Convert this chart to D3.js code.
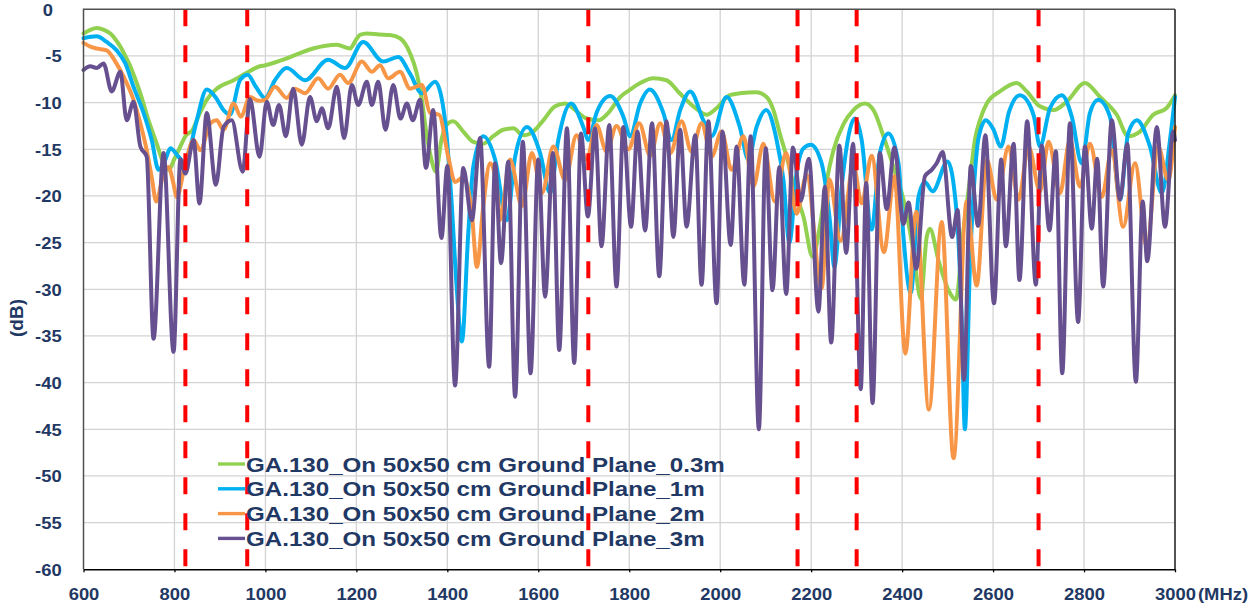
<!DOCTYPE html>
<html>
<head>
<meta charset="utf-8">
<script src="https://cdn.jsdelivr.net/npm/d3@7"></script>
<style>
  body { margin: 0; background: #fff; }
  svg { display: block; font-family: "Liberation Sans", Arial, sans-serif; font-weight: bold; }
</style>
</head>
<body>
<svg id="chart" width="1257" height="604"></svg>
<script>
// tick labels
const xTickValues = [600, 800, 1000, 1200, 1400, 1600, 1800, 2000, 2200, 2400, 2600, 2800, 3000];
const yTickValues = [0, -5, -10, -15, -20, -25, -30, -35, -40, -45, -50, -55, -60];

// band edges marked with red dashed lines (MHz)
const bandEdges = [824, 960, 1710, 2170, 2300, 2700];

const seriesNames = [
    "GA.130_On 50x50 cm Ground Plane_0.3m",
    "GA.130_On 50x50 cm Ground Plane_1m",
    "GA.130_On 50x50 cm Ground Plane_2m",
    "GA.130_On 50x50 cm Ground Plane_3m"
];

// [MHz, dB]
const gp03m = [
    [600,-2.6],[615,-2.2],[629,-2.0],[645,-2.2],[659,-2.6],[670,-3.2],[681,-4.0],[692,-5.0],[703,-6.1],
    [714,-7.5],[725,-9.0],[743,-11.9],[761,-14.4],[776,-16.5],[788,-17.2],[800,-16.0],[813,-14.7],[824,-13.6],
    [840,-12.9],[856,-11.1],[871,-9.7],[893,-8.5],[930,-7.6],[959,-6.8],[988,-6.1],[1000,-6.0],[1039,-5.4],
    [1076,-4.7],[1105,-4.2],[1157,-3.8],[1186,-4.2],[1200,-3.2],[1208,-2.75],[1223,-2.6],[1250,-2.7],
    [1274,-2.75],[1296,-3.1],[1318,-4.7],[1333,-6.9],[1344,-9.7],[1354,-13.3],[1365,-16.1],[1375,-17.4],
    [1387,-14.0],[1402,-12.2],[1413,-12.0],[1435,-13.1],[1457,-14.2],[1479,-14.4],[1501,-13.6],[1523,-12.9],
    [1545,-12.75],[1567,-13.5],[1589,-13.1],[1611,-11.9],[1637,-10.4],[1659,-10.1],[1681,-10.8],[1706,-11.7],
    [1732,-11.9],[1754,-11.1],[1780,-9.4],[1802,-8.6],[1824,-7.9],[1853,-7.4],[1882,-7.6],[1911,-9.0],
    [1941,-10.4],[1970,-11.3],[1992,-10.6],[2021,-9.2],[2043,-9.0],[2080,-8.9],[2102,-9.4],[2117,-10.8],
    [2131,-13.3],[2146,-15.8],[2168,-20.0],[2183,-22.2],[2203,-26.5],[2219,-23.3],[2232,-19.0],[2249,-15.1],
    [2271,-12.3],[2293,-10.8],[2318,-10.1],[2337,-10.8],[2359,-13.6],[2381,-16.9],[2406,-21.0],[2425,-26.0],
    [2441,-31.0],[2454,-24.4],[2461,-23.5],[2480,-26.9],[2502,-30.1],[2518,-31.1],[2535,-23.6],[2549,-18.3],
    [2560,-14.0],[2571,-11.9],[2586,-10.1],[2615,-8.8],[2652,-7.9],[2674,-8.8],[2703,-10.4],[2733,-10.8],
    [2762,-9.9],[2802,-7.9],[2835,-9.4],[2872,-11.3],[2897,-13.6],[2923,-13.1],[2952,-11.3],[2981,-10.6],
    [3000,-9.2]
];

const gp1m = [
    [600,-3.1],[629,-2.9],[651,-3.5],[673,-4.4],[692,-5.8],[710,-8.3],[732,-11.1],[750,-14.0],[765,-17.2],
    [780,-16.1],[791,-14.9],[809,-15.8],[820,-16.3],[835,-14.7],[849,-11.9],[871,-8.6],[890,-9.4],[908,-10.8],
    [922,-11.3],[944,-7.6],[961,-7.0],[979,-8.3],[999,-9.5],[1021,-7.6],[1047,-6.3],[1087,-7.6],[1138,-5.4],
    [1175,-6.3],[1215,-3.5],[1259,-5.6],[1292,-5.1],[1318,-6.9],[1344,-9.0],[1373,-7.75],[1387,-9.4],
    [1398,-13.3],[1409,-20.4],[1420,-29.4],[1432,-35.6],[1446,-24.0],[1457,-16.9],[1479,-13.6],[1505,-16.1],
    [1531,-22.6],[1549,-15.8],[1575,-12.6],[1604,-15.4],[1626,-19.7],[1644,-14.0],[1672,-10.1],[1699,-12.6],
    [1710,-14.0],[1728,-11.1],[1758,-9.3],[1787,-11.5],[1802,-13.6],[1824,-10.1],[1845,-8.6],[1875,-11.1],
    [1893,-14.0],[1912,-10.8],[1934,-8.8],[1963,-11.9],[1981,-13.6],[2014,-9.4],[2043,-12.6],[2062,-16.1],
    [2080,-12.6],[2101,-10.8],[2124,-14.0],[2139,-18.3],[2152,-25.0],[2168,-17.5],[2183,-14.9],[2199,-14.5],
    [2223,-16.5],[2241,-22.6],[2251,-27.6],[2267,-19.0],[2285,-12.9],[2296,-11.7],[2311,-14.0],[2333,-23.6],
    [2351,-15.4],[2370,-13.3],[2392,-16.5],[2403,-24.4],[2419,-30.4],[2436,-20.1],[2450,-18.5],[2467,-19.5],
    [2500,-16.3],[2520,-21.9],[2531,-33.3],[2538,-45.0],[2549,-27.6],[2558,-19.0],[2568,-13.8],[2584,-11.9],
    [2600,-12.8],[2617,-14.7],[2635,-11.0],[2659,-9.2],[2680,-10.2],[2690,-11.5],[2703,-14.7],[2725,-10.6],
    [2751,-9.2],[2773,-11.5],[2795,-16.5],[2813,-11.1],[2831,-9.7],[2857,-11.5],[2879,-20.4],[2897,-13.3],
    [2916,-11.9],[2945,-14.7],[2971,-19.7],[2989,-14.0],[3000,-9.4]
];

const gp2m = [
    [600,-3.6],[615,-4.0],[629,-4.2],[651,-4.4],[670,-5.6],[688,-7.2],[710,-9.7],[725,-12.2],[739,-15.1],
    [750,-18.0],[760,-20.6],[776,-17.6],[787,-16.9],[797,-18.5],[805,-20.1],[824,-16.5],[842,-14.0],[857,-15.1],
    [879,-12.2],[893,-11.9],[908,-12.9],[930,-10.1],[946,-11.5],[966,-9.4],[985,-9.8],[999,-9.7],[1021,-8.3],
    [1047,-9.5],[1065,-8.5],[1087,-9.0],[1116,-7.4],[1138,-8.5],[1164,-7.0],[1182,-7.9],[1212,-5.6],
    [1234,-6.7],[1252,-6.0],[1270,-7.4],[1296,-6.7],[1318,-8.5],[1344,-8.1],[1362,-11.1],[1382,-11.3],
    [1402,-15.8],[1417,-18.5],[1435,-18.0],[1454,-21.9],[1465,-27.6],[1479,-21.1],[1494,-16.5],[1509,-19.0],
    [1516,-22.6],[1538,-16.1],[1564,-21.1],[1586,-15.4],[1608,-19.7],[1633,-14.7],[1659,-18.3],[1684,-13.5],
    [1706,-16.1],[1728,-12.4],[1750,-15.25],[1772,-12.5],[1798,-15.0],[1822,-12.2],[1846,-15.7],[1868,-12.2],
    [1890,-15.4],[1915,-12.0],[1937,-15.25],[1959,-12.2],[1981,-15.8],[2003,-13.1],[2025,-17.2],[2051,-13.6],
    [2073,-19.0],[2095,-14.4],[2120,-20.6],[2145,-15.4],[2168,-21.9],[2190,-17.75],[2223,-29.9],[2240,-18.2],
    [2265,-24.8],[2293,-16.7],[2311,-20.8],[2333,-15.7],[2360,-26.0],[2383,-17.9],[2407,-36.9],[2431,-21.7],
    [2459,-42.9],[2487,-22.8],[2513,-48.1],[2542,-20.6],[2564,-29.6],[2586,-16.1],[2608,-20.4],[2634,-14.7],
    [2656,-20.4],[2678,-14.7],[2703,-19.5],[2722,-14.2],[2747,-19.7],[2769,-14.0],[2791,-19.0],[2813,-14.4],
    [2839,-20.1],[2861,-15.1],[2886,-23.3],[2912,-16.5],[2938,-25.4],[2963,-14.7],[2985,-18.3],[3000,-12.6]
];

const gp3m = [
    [600,-6.5],[615,-6.1],[629,-6.3],[644,-5.8],[662,-8.8],[681,-6.7],[695,-11.9],[710,-9.9],[725,-14.7],
    [739,-15.8],[754,-35.3],[776,-15.4],[798,-36.7],[813,-16.1],[824,-17.6],[842,-14.0],[855,-20.8],[871,-11.1],
    [891,-18.8],[908,-12.6],[926,-11.9],[950,-17.4],[966,-9.6],[987,-15.8],[1003,-9.9],[1017,-12.4],[1030,-10.25],
    [1045,-13.6],[1061,-8.5],[1080,-14.5],[1098,-9.4],[1113,-12.0],[1124,-10.6],[1138,-12.75],[1157,-8.3],
    [1173,-13.8],[1190,-8.1],[1204,-10.25],[1223,-7.75],[1234,-10.25],[1248,-7.75],[1264,-12.9],[1281,-8.1],
    [1297,-11.7],[1311,-10.1],[1324,-11.9],[1340,-9.7],[1353,-17.0],[1369,-10.8],[1387,-24.5],[1400,-16.8],
    [1417,-40.3],[1435,-17.0],[1454,-22.6],[1472,-13.8],[1492,-38.3],[1505,-16.5],[1518,-27.2],[1534,-16.3],
    [1549,-41.5],[1566,-14.2],[1583,-39.0],[1600,-16.1],[1615,-30.8],[1632,-15.4],[1646,-36.5],[1663,-12.75],
    [1679,-37.9],[1694,-13.3],[1709,-22.2],[1725,-12.75],[1739,-25.4],[1756,-12.4],[1772,-29.7],[1787,-12.6],
    [1804,-23.3],[1818,-13.1],[1835,-23.7],[1850,-12.2],[1866,-28.6],[1882,-12.0],[1897,-24.4],[1912,-12.9],
    [1926,-23.3],[1945,-13.5],[1959,-29.5],[1974,-12.0],[1992,-31.5],[2005,-13.1],[2023,-25.25],[2036,-14.7],
    [2053,-29.5],[2067,-13.6],[2085,-45.0],[2100,-14.9],[2115,-30.1],[2130,-16.9],[2145,-30.5],[2160,-14.8],
    [2177,-20.5],[2195,-16.0],[2216,-32.4],[2230,-19.0],[2244,-35.7],[2262,-14.6],[2277,-26.1],[2292,-14.4],
    [2309,-40.7],[2321,-18.6],[2335,-42.2],[2351,-15.4],[2366,-21.4],[2383,-14.8],[2403,-23.0],[2414,-20.7],
    [2431,-27.8],[2450,-17.9],[2465,-17.2],[2476,-16.5],[2489,-15.3],[2510,-24.4],[2522,-21.5],[2536,-39.7],
    [2551,-16.8],[2567,-23.2],[2583,-13.5],[2602,-31.5],[2618,-16.1],[2628,-25.4],[2645,-14.4],[2658,-29.0],
    [2675,-12.0],[2694,-29.5],[2707,-14.6],[2724,-23.7],[2738,-15.2],[2752,-39.0],[2769,-12.2],[2787,-33.5],
    [2802,-14.7],[2817,-23.5],[2829,-16.0],[2842,-29.7],[2861,-11.9],[2879,-20.4],[2895,-14.4],[2914,-39.9],
    [2929,-20.6],[2939,-27.0],[2960,-12.6],[2978,-23.3],[2996,-13.1],[3000,-14.0]
];

const seriesData = [gp03m, gp1m, gp2m, gp3m];
const seriesColors = ["#92d050", "#00b0f0", "#f79646", "#67508f"];

const textColor = "#1f3864";
const stretch = 1.15;   // the reference text is a bit wider than plain Arial

const margin = { top: 9.3, right: 82, bottom: 34.7, left: 83.5 };
const width = 1257, height = 604;

const svg = d3.select("#chart");
svg.append("rect").attr("width", width).attr("height", height).attr("fill", "#fff");

const xScale = d3.scaleLinear().domain([600, 3000]).range([margin.left, width - margin.right]);
const yScale = d3.scaleLinear().domain([-60, 0]).range([height - margin.bottom, margin.top]);

// grid
const grid = svg.append("g").attr("stroke", "#d3d3d3").attr("stroke-width", 1.3);
grid.selectAll(".gx").data(xTickValues.slice(1, -1)).enter().append("line")
    .attr("x1", d => xScale(d)).attr("x2", d => xScale(d))
    .attr("y1", yScale(0)).attr("y2", yScale(-60));
grid.selectAll(".gy").data(yTickValues.slice(1, -1)).enter().append("line")
    .attr("x1", xScale(600)).attr("x2", xScale(3000))
    .attr("y1", d => yScale(d)).attr("y2", d => yScale(d));

// series
const line = d3.line()
    .x(d => xScale(d[0]))
    .y(d => yScale(d[1]))
    .curve(d3.curveMonotoneX);

svg.append("g").selectAll("path")
    .data(seriesData)
    .enter().append("path")
    .attr("d", line)
    .attr("fill", "none")
    .attr("stroke", (d, i) => seriesColors[i])
    .attr("stroke-width", 4)
    .attr("stroke-linejoin", "round")
    .attr("stroke-linecap", "round");

// band edges
svg.append("g").selectAll("line")
    .data(bandEdges)
    .enter().append("line")
    .attr("x1", d => xScale(d)).attr("x2", d => xScale(d))
    .attr("y1", yScale(0)).attr("y2", yScale(-60))
    .attr("stroke", "#ff0000")
    .attr("stroke-width", 4)
    .attr("stroke-dasharray", "17,19");

// frame
svg.append("path")
    .attr("d", `M${xScale(600)},${yScale(-60)}V${yScale(0)}H${xScale(3000)}`)
    .attr("fill", "none").attr("stroke", "#505050").attr("stroke-width", 1.5);
svg.append("line")
    .attr("x1", xScale(3000)).attr("x2", xScale(3000))
    .attr("y1", yScale(0)).attr("y2", yScale(-60))
    .attr("stroke", "#1a1a1a").attr("stroke-width", 1.5);

// axes
const xAxis = d3.axisBottom(xScale).tickValues(xTickValues).tickFormat(d => String(d))
    .tickSize(3).tickSizeOuter(0).tickPadding(16);
const xg = svg.append("g").attr("transform", `translate(0,${yScale(-60)})`).call(xAxis);
xg.select(".domain").attr("stroke", "#000").attr("stroke-width", 1.5);
xg.selectAll(".tick line").attr("stroke", "#000").attr("stroke-width", 1.3);
xg.selectAll("text")
    .attr("fill", textColor).attr("font-size", 16).attr("font-weight", "bold")
    .attr("font-family", "'Liberation Sans', Arial, sans-serif")
    .attr("transform", `scale(${stretch},1)`);

const yAxis = d3.axisLeft(yScale).tickValues(yTickValues).tickFormat(d => String(d))
    .tickSize(0).tickPadding(19);
const yg = svg.append("g").attr("transform", `translate(${xScale(600)},0)`).call(yAxis);
yg.select(".domain").remove();
yg.selectAll("text")
    .attr("fill", textColor).attr("font-size", 16).attr("font-weight", "bold")
    .attr("font-family", "'Liberation Sans', Arial, sans-serif")
    .attr("dy", "0.36em")
    .attr("transform", `scale(${stretch},1)`);
yg.selectAll(".tick").filter(d => d === 0).select("text").attr("dx", -7.5);

// axis titles
svg.append("text")
    .attr("transform", "translate(23,318) rotate(-90)")
    .attr("text-anchor", "middle")
    .attr("fill", textColor).attr("font-size", 19)
    .text("(dB)");

svg.append("text")
    .attr("transform", `translate(1198,599.5) scale(${stretch},1)`)
    .attr("fill", textColor).attr("font-size", 16)
    .text("(MHz)");

// legend
const legend = svg.append("g").selectAll("g")
    .data(seriesNames)
    .enter().append("g")
    .attr("transform", (d, i) => `translate(218,${464 + i * 24.8})`);
legend.append("line")
    .attr("x1", 0).attr("x2", 27).attr("y1", 0).attr("y2", 0)
    .attr("stroke", (d, i) => seriesColors[i])
    .attr("stroke-width", 3.4);
legend.append("text")
    .attr("transform", `translate(28,7.6) scale(${stretch},1)`)
    .attr("fill", textColor).attr("font-size", 21)
    .text(d => d);
</script>
</body>
</html>
